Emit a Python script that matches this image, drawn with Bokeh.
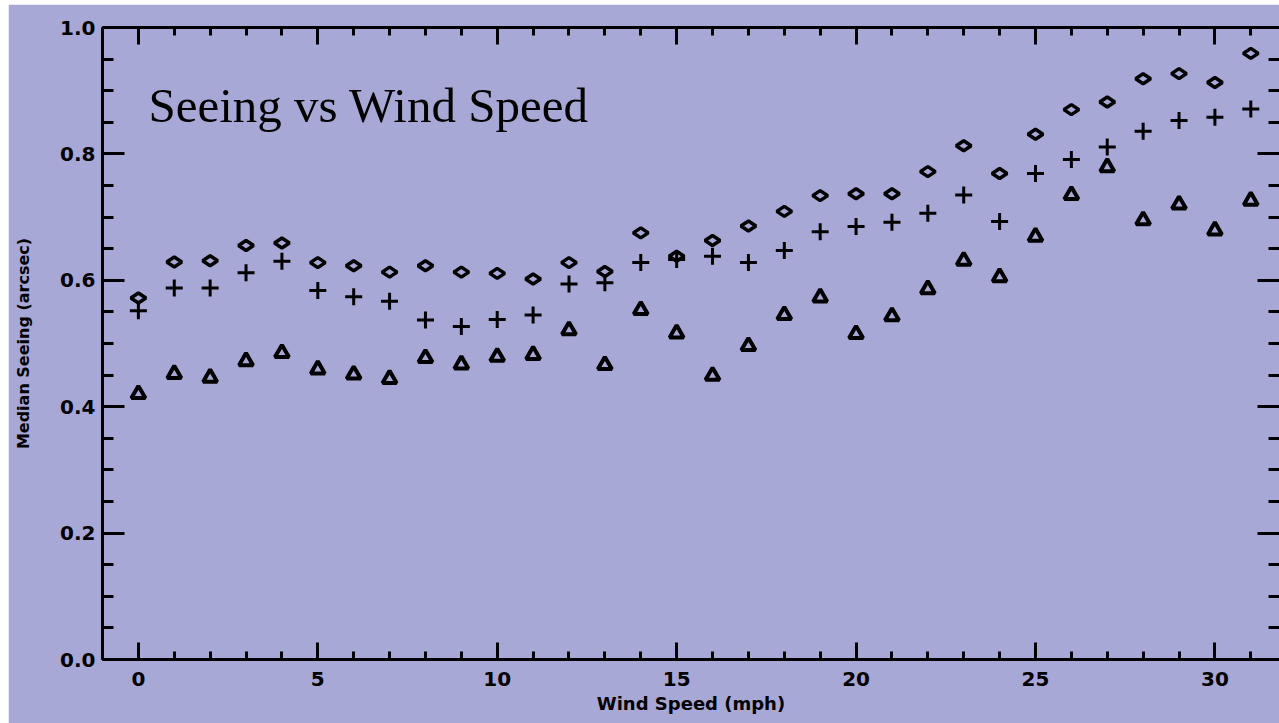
from bokeh.plotting import figure
from bokeh.models import Range1d, LinearAxis, SingleIntervalTicker, Label, ColumnDataSource, PrintfTickFormatter
from bokeh.embed import file_html
from bokeh.resources import INLINE
import math

# ---- data ----
wind_speed = list(range(32))
seeing_diamond = [0.572, 0.629, 0.631, 0.655, 0.659, 0.628, 0.623, 0.613, 0.623, 0.613,
                  0.611, 0.602, 0.628, 0.614, 0.675, 0.638, 0.663, 0.686, 0.709, 0.734,
                  0.737, 0.737, 0.772, 0.813, 0.769, 0.831, 0.870, 0.882, 0.919, 0.927,
                  0.913, 0.959]
seeing_plus = [0.552, 0.588, 0.588, 0.612, 0.630, 0.584, 0.574, 0.567, 0.537, 0.527,
               0.538, 0.545, 0.594, 0.596, 0.628, 0.633, 0.638, 0.628, 0.647, 0.677,
               0.685, 0.692, 0.706, 0.735, 0.693, 0.769, 0.791, 0.811, 0.836, 0.853,
               0.858, 0.871]
seeing_triangle = [0.420, 0.452, 0.446, 0.472, 0.485, 0.459, 0.451, 0.444, 0.477, 0.467,
                   0.479, 0.482, 0.521, 0.466, 0.553, 0.516, 0.449, 0.496, 0.545, 0.573,
                   0.515, 0.543, 0.586, 0.631, 0.605, 0.669, 0.735, 0.779, 0.695, 0.720,
                   0.679, 0.726]

title_text = "Seeing vs Wind Speed"
x_label = "Wind Speed (mph)"
y_label = "Median Seeing (arcsec)"

BG = "#A8A8D6"
TICK_FONT = "DejaVu Sans"

p = figure(width=1271, height=719, output_backend="svg", toolbar_location=None,
           x_range=Range1d(-1, 31.8), y_range=Range1d(0, 1.0),
           min_border_left=94, min_border_right=0, min_border_top=23, min_border_bottom=64)
p.margin = (4, 0, 0, 8)
p.background_fill_color = BG
p.border_fill_color = BG
p.outline_line_color = None
p.grid.visible = False

# bottom axis
xa = p.xaxis[0]
xa.ticker = SingleIntervalTicker(interval=5, num_minor_ticks=5)
xa.axis_label = x_label
# left axis
ya = p.yaxis[0]
ya.ticker = SingleIntervalTicker(interval=0.2, num_minor_ticks=4)
ya.formatter = PrintfTickFormatter(format="%.1f")
ya.axis_label = y_label

# top and right axes (ticks only)
top = LinearAxis(ticker=SingleIntervalTicker(interval=5, num_minor_ticks=5))
right = LinearAxis(ticker=SingleIntervalTicker(interval=0.2, num_minor_ticks=4))
p.add_layout(top, "above")
p.add_layout(right, "right")

for ax in (xa, ya, top, right):
    ax.axis_line_color = "black"
    ax.axis_line_width = 3
    ax.major_tick_line_color = "black"
    ax.minor_tick_line_color = "black"
    ax.major_tick_line_width = 3
    ax.minor_tick_line_width = 3
    ax.major_tick_out = 0
    ax.minor_tick_out = 0
    ax.major_label_text_font = TICK_FONT
    ax.major_label_text_font_style = "bold"
    ax.major_label_text_font_size = "20px"
    ax.major_label_text_color = "black"
    ax.axis_label_text_font = TICK_FONT
    ax.axis_label_text_font_style = "bold"
    ax.axis_label_text_color = "black"

for ax in (xa, top):
    ax.major_tick_in = 17
    ax.minor_tick_in = 8
for ax in (ya, right):
    ax.major_tick_in = 22
    ax.minor_tick_in = 11

for ax in (top, right):
    ax.major_label_text_font_size = "0px"
    ax.major_label_standoff = 0
    ax.major_label_text_color = None

right.axis_line_color = None

xa.major_label_standoff = 12
xa.axis_label_standoff = 4
xa.axis_label_text_font_size = "18px"
ya.major_label_standoff = 7
ya.axis_label_standoff = 24
ya.axis_label_text_font_size = "16px"

src = ColumnDataSource(dict(x=wind_speed, d=seeing_diamond, c=seeing_plus, t=seeing_triangle))

p.scatter("x", "d", source=src, marker="diamond", size=15, angle=math.pi / 2,
          fill_color=None, line_color="black", line_width=3.5)
p.scatter("x", "c", source=src, marker="cross", size=17,
          line_color="black", line_width=3)
p.scatter("x", "t", source=src, marker="triangle", size=14,
          fill_color=None, line_color="black", line_width=4)

p.add_layout(Label(x=0.28, y=0.876, text=title_text, text_font="Liberation Serif",
                   text_font_size="49px", text_color="black", text_baseline="alphabetic"))

open("out.html", "w").write(file_html(p, INLINE))
